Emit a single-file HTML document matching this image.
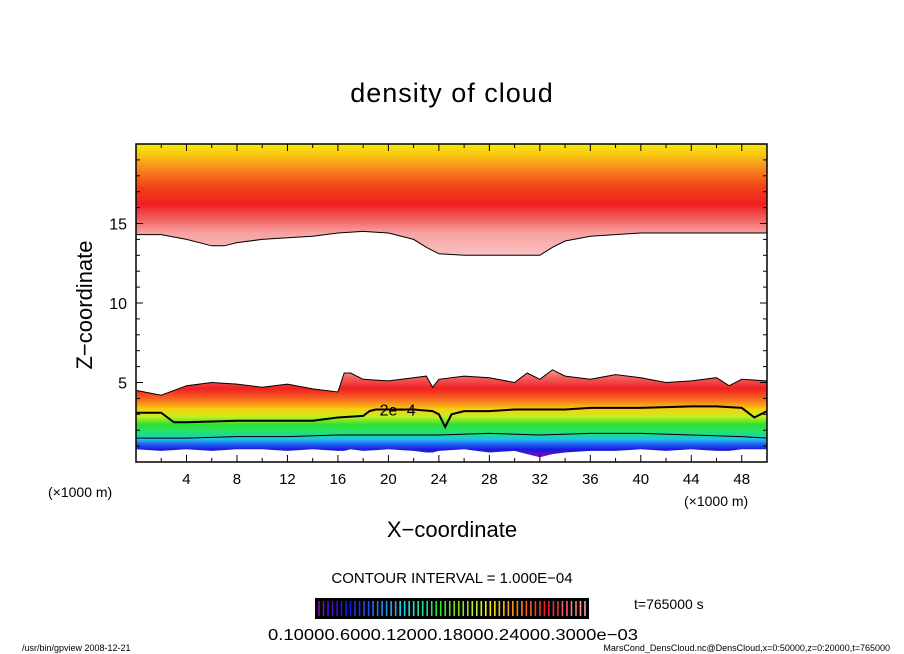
<!DOCTYPE html>
<html><head><meta charset="utf-8">
<style>
html,body{margin:0;padding:0;background:#fff;}
svg{display:block;font-family:"Liberation Sans",sans-serif;}
</style></head>
<body>
<svg id="chart" width="904" height="654" viewBox="0 0 904 654" xmlns="http://www.w3.org/2000/svg">
<defs>
<linearGradient id="gUp" gradientUnits="userSpaceOnUse" x1="0" y1="143" x2="0" y2="255">
<stop offset="0" stop-color="#f4ee10"/>
<stop offset="0.12" stop-color="#f8c010"/>
<stop offset="0.25" stop-color="#f88020"/>
<stop offset="0.4" stop-color="#f04018"/>
<stop offset="0.55" stop-color="#f02020"/>
<stop offset="0.68" stop-color="#f46060"/>
<stop offset="0.8" stop-color="#f8a0a0"/>
<stop offset="1" stop-color="#fac0c0"/>
</linearGradient>
<linearGradient id="gLow" gradientUnits="userSpaceOnUse" x1="0" y1="368" x2="0" y2="462">
<stop offset="0" stop-color="#f8a8a8"/>
<stop offset="0.1" stop-color="#f46060"/>
<stop offset="0.22" stop-color="#f02020"/>
<stop offset="0.34" stop-color="#f87020"/>
<stop offset="0.44" stop-color="#f8d010"/>
<stop offset="0.52" stop-color="#c0f020"/>
<stop offset="0.6" stop-color="#30e030"/>
<stop offset="0.7" stop-color="#20e080"/>
<stop offset="0.76" stop-color="#20c0f0"/>
<stop offset="0.81" stop-color="#2060f0"/>
<stop offset="0.87" stop-color="#1818e0"/>
<stop offset="0.93" stop-color="#7010c0"/>
<stop offset="1" stop-color="#7010c0"/>
</linearGradient>
<clipPath id="clip"><rect x="136" y="144" width="631" height="318"/></clipPath>
</defs>
<text x="452" y="102" font-size="27" text-anchor="middle" letter-spacing="1">density of cloud</text>
<g id="plot" clip-path="url(#clip)"></g>
<rect x="136" y="144" width="631" height="318" fill="none" stroke="#000" stroke-width="1.5"/>
<g id="axes"></g>
<text transform="translate(92,305) rotate(-90)" font-size="22" text-anchor="middle">Z−coordinate</text>
<text x="452" y="537" font-size="22" text-anchor="middle">X−coordinate</text>
<text x="48" y="497" font-size="14">(×1000 m)</text>
<text x="684" y="506" font-size="14">(×1000 m)</text>
<text x="452" y="583" font-size="15" text-anchor="middle">CONTOUR INTERVAL = 1.000E−04</text>
<rect x="315" y="598" width="274" height="21" fill="#000"/>
<g id="cbar"></g>
<text x="634" y="609" font-size="14">t=765000 s</text>
<text x="268" y="640" font-size="16" textLength="370" lengthAdjust="spacingAndGlyphs">0.10000.6000.12000.18000.24000.3000e−03</text>
<text x="22" y="651" font-size="9">/usr/bin/gpview   2008-12-21</text>
<text x="890" y="651" font-size="9" text-anchor="end">MarsCond_DensCloud.nc@DensCloud,x=0:50000,z=0:20000,t=765000</text>
</svg>
<script>
// data (x in 1000 m, z in 1000 m)
const upperX = [0,2,4,6,7,8,10,12,14,16,18,20,22,23,24,26,28,30,32,33,34,36,38,40,42,44,46,48,50];
const upperBaseZ = [14.3,14.3,14.0,13.6,13.6,13.8,14.0,14.1,14.2,14.4,14.5,14.4,14.0,13.5,13.1,13.0,13.0,13.0,13.0,13.5,13.9,14.2,14.3,14.4,14.4,14.4,14.4,14.4,14.4];
const lowerX = [0,2,4,6,8,10,12,14,16,16.5,17,18,20,22,23,23.5,24,26,28,30,31,32,33,34,36,38,40,42,44,46,47,48,50];
const lowerTopZ = [4.5,4.2,4.8,5.0,4.9,4.7,4.9,4.6,4.4,5.6,5.6,5.2,5.1,5.3,5.4,4.7,5.2,5.4,5.3,5.0,5.6,5.2,5.8,5.4,5.2,5.5,5.3,5.0,5.1,5.3,4.8,5.2,5.1];
const lowerBottomZ = [0.8,0.7,0.8,0.7,0.8,0.8,0.7,0.8,0.7,0.7,0.8,0.7,0.8,0.7,0.6,0.6,0.7,0.8,0.6,0.7,0.5,0.3,0.5,0.6,0.7,0.7,0.8,0.7,0.8,0.7,0.7,0.8,0.8];
const c2X = [0,2,3,4,8,12,14,16,18,18.5,19,22,23.5,24,24.5,25,26,28,30,32,34,36,40,44,46,48,49,50];
const c2Z = [3.1,3.1,2.5,2.5,2.6,2.6,2.6,2.8,2.9,3.2,3.3,3.3,3.2,3.0,2.2,3.0,3.2,3.2,3.3,3.3,3.3,3.4,3.4,3.5,3.5,3.4,2.8,3.2];
const c1X = [0,4,8,12,16,20,24,28,32,36,40,44,48,50];
const c1Z = [1.5,1.5,1.6,1.6,1.7,1.7,1.7,1.8,1.7,1.8,1.8,1.7,1.6,1.5];
const xTicks = [4,8,12,16,20,24,28,32,36,40,44,48];
const yTicks = [5,10,15];
const cbarColors = ["#7010c0","#5010c0","#3010d0","#1818e0","#2030f0","#2050f0","#2070f0","#2090f0","#20b0f0","#20d0f0","#20e0d0","#20e0a0","#20e070","#30e040","#50e030","#80e020","#a0e020","#c0f020","#e0f010","#f8e010","#f8c010","#f8a010","#f88020","#f86020","#f04018","#f02020","#f03030","#f46060","#f88080","#f8a0a0"];

const X0=136, X1=767, Y0=462, Y1=144;
const sx = x => X0 + (X1-X0)*x/50;
const sy = z => Y0 - (Y0-Y1)*z/20;
const NS="http://www.w3.org/2000/svg";
const plot=document.getElementById('plot');
const axes=document.getElementById('axes');
function mk(tag, parent){const e=document.createElementNS(NS,tag);parent.appendChild(e);return e;}
function pts(xs,zs){return xs.map((x,i)=>sx(x).toFixed(1)+','+sy(zs[i]).toFixed(1));}

let up=mk('polygon',plot);


up.setAttribute('points',[sx(0)+','+sy(20.5)].concat(pts(upperX,upperBaseZ)).concat([sx(50)+','+sy(20.5)]).join(' '));
up.setAttribute('fill','url(#gUp)');
let upE=mk('polyline',plot);


upE.setAttribute('points',pts(upperX,upperBaseZ).join(' '));
upE.setAttribute('fill','none');upE.setAttribute('stroke','#000');upE.setAttribute('stroke-width','1');

let lo=mk('polygon',plot);


lo.setAttribute('points',pts(lowerX,lowerTopZ).concat(pts(lowerX,lowerBottomZ).reverse()).join(' '));
lo.setAttribute('fill','url(#gLow)');
let loE=mk('polyline',plot);


loE.setAttribute('points',pts(lowerX,lowerTopZ).join(' '));
loE.setAttribute('fill','none');loE.setAttribute('stroke','#000');loE.setAttribute('stroke-width','1');

let c2=mk('polyline',plot);


c2.setAttribute('points',pts(c2X,c2Z).join(' '));
c2.setAttribute('fill','none');c2.setAttribute('stroke','#000');c2.setAttribute('stroke-width','2');
let c1=mk('polyline',plot);


c1.setAttribute('points',pts(c1X,c1Z).join(' '));
c1.setAttribute('fill','none');c1.setAttribute('stroke','#000');c1.setAttribute('stroke-width','1');
let lbl=mk('text',plot);


lbl.setAttribute('x',sx(19.3));lbl.setAttribute('y',sy(3.3)+6);lbl.setAttribute('font-size','16');
lbl.textContent='2e−4';

for(let x=2;x<50;x+=2){
  const maj=x%4===0, len=maj?7:4;
  for(const [yb,d] of [[Y0,-1],[Y1,1]]){
    let t=mk('line',axes);
    
    
    t.setAttribute('x1',sx(x));t.setAttribute('x2',sx(x));t.setAttribute('y1',yb);t.setAttribute('y2',yb+d*len);t.setAttribute('stroke','#000');
  }
}
for(let z=1;z<20;z++){
  const maj=z%5===0, len=maj?7:4;
  for(const [xb,d] of [[X0,1],[X1,-1]]){
    let t=mk('line',axes);
    
    
    t.setAttribute('x1',xb);t.setAttribute('x2',xb+d*len);t.setAttribute('y1',sy(z));t.setAttribute('y2',sy(z));t.setAttribute('stroke','#000');
  }
}
xTicks.forEach(x=>{
  let t=mk('text',axes);
  
  
  t.setAttribute('x',sx(x));t.setAttribute('y',484);t.setAttribute('font-size','15');t.setAttribute('text-anchor','middle');
  t.textContent=x;
});
yTicks.forEach(z=>{
  let t=mk('text',axes);
  
  
  t.setAttribute('x',127);t.setAttribute('y',sy(z)+6);t.setAttribute('font-size','16');t.setAttribute('text-anchor','end');
  t.textContent=z;
});

const cb=document.getElementById('cbar');
const n=cbarColors.length*2;
for(let i=0;i<n;i++){
  let l=mk('line',cb);
  
  
  const x=319+i*(266/(n-1));
  l.setAttribute('x1',x);l.setAttribute('x2',x);l.setAttribute('y1',601);l.setAttribute('y2',616);
  l.setAttribute('stroke',cbarColors[Math.floor(i/2)]);l.setAttribute('stroke-width','1.6');
}
</script>
</body></html>
